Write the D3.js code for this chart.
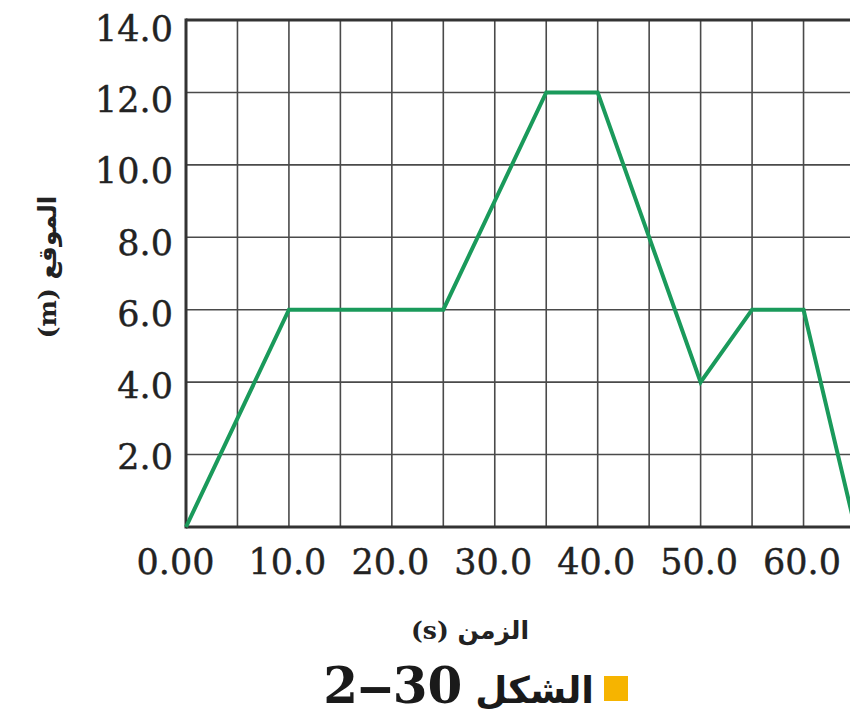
<!DOCTYPE html>
<html>
<head>
<meta charset="utf-8">
<script src="https://cdn.jsdelivr.net/npm/d3@7"></script>
<style>
  html, body { margin: 0; padding: 0; background: #fff; }
  svg { display: block; }
</style>
</head>
<body>
<svg id="chart" width="850" height="725"></svg>
<script>
// ---- data ----
const timeS = [0, 10, 25, 35, 40, 50, 55, 60, 65];
const positionM = [0, 6, 6, 12, 12, 4, 6, 6, 0];
const xTickValues = [0, 10, 20, 30, 40, 50, 60];
const xTickLabels = ["0.00", "10.0", "20.0", "30.0", "40.0", "50.0", "60.0"];
const yTickValues = [2, 4, 6, 8, 10, 12, 14];
const yTickLabels = ["2.0", "4.0", "6.0", "8.0", "10.0", "12.0", "14.0"];
const xGridValues = d3.range(0, 66, 5);
const yGridValues = d3.range(0, 15, 2);
const xTitle = "الزمن (s)";
const yTitle = "الموقع (m)";
const captionWord = "الشكل";
const captionNum = "30‒2";

const svg = d3.select("#chart");
svg.append("rect").attr("width", 850).attr("height", 725).attr("fill", "#fff");

const x = d3.scaleLinear().domain([0, 65]).range([186, 855]);
const y = d3.scaleLinear().domain([0, 14]).range([527, 20]);

const numFont = "'DejaVu Serif', serif";
const arFont = "'DejaVu Serif', 'DejaVu Sans', sans-serif";

// grid
const grid = svg.append("g");
grid.selectAll("line.v").data(xGridValues).join("line")
  .attr("x1", d => x(d)).attr("x2", d => x(d))
  .attr("y1", y(0)).attr("y2", y(14))
  .attr("stroke", "#4a4a4a").attr("stroke-width", 1.6);
grid.selectAll("line.h").data(yGridValues).join("line")
  .attr("x1", x(0)).attr("x2", x(65))
  .attr("y1", d => y(d)).attr("y2", d => y(d))
  .attr("stroke", "#4a4a4a").attr("stroke-width", 1.6);

// frame lines (left, bottom, top)
svg.append("line").attr("x1", x(0)).attr("x2", x(0)).attr("y1", y(0) + 1.5).attr("y2", y(14) - 1.5)
  .attr("stroke", "#333").attr("stroke-width", 3);
svg.append("line").attr("x1", x(0)).attr("x2", x(65)).attr("y1", y(0)).attr("y2", y(0))
  .attr("stroke", "#333").attr("stroke-width", 3);
svg.append("line").attr("x1", x(0)).attr("x2", x(65)).attr("y1", y(14)).attr("y2", y(14))
  .attr("stroke", "#333").attr("stroke-width", 3);

// x axis
const xAxis = d3.axisBottom(x).tickValues(xTickValues).tickSize(0).tickPadding(0)
  .tickFormat((d, i) => xTickLabels[i]);
const gx = svg.append("g").attr("transform", `translate(0,${y(0)})`).call(xAxis);
gx.select(".domain").remove();
gx.selectAll("text")
  .attr("font-family", numFont).attr("font-size", 35).attr("fill", "#222")
  .attr("stroke", "#222").attr("stroke-width", 0.4)
  .attr("dy", null).attr("y", 47)
  .attr("dx", (d, i) => i === 0 ? -11 : -2);

// y axis
const yAxis = d3.axisLeft(y).tickValues(yTickValues).tickSize(0).tickPadding(13)
  .tickFormat(d => yTickLabels[yTickValues.indexOf(d)]);
const gy = svg.append("g").attr("transform", `translate(${x(0)},0)`).call(yAxis);
gy.select(".domain").remove();
gy.selectAll("text")
  .attr("font-family", numFont).attr("font-size", 35).attr("fill", "#222")
  .attr("stroke", "#222").attr("stroke-width", 0.4)
  .attr("dy", "0.4em")
  .attr("transform", d => `translate(0,${(d - 2) * 0.5})`);

// line
const line = d3.line().x(d => x(d[0])).y(d => y(d[1]));
svg.append("path")
  .datum(timeS.map((t, i) => [t, positionM[i]]))
  .attr("d", line)
  .attr("fill", "none").attr("stroke", "#1a9a5b").attr("stroke-width", 4)
  .attr("stroke-linejoin", "miter");

// axis titles
svg.append("text")
  .attr("x", 470).attr("y", 639)
  .attr("text-anchor", "middle").attr("direction", "rtl")
  .attr("font-family", arFont).attr("font-weight", "bold").attr("font-size", 25)
  .attr("fill", "#222").text(xTitle);

svg.append("text")
  .attr("transform", "translate(56,267) rotate(-90)")
  .attr("text-anchor", "middle").attr("direction", "rtl")
  .attr("font-family", arFont).attr("font-weight", "bold").attr("font-size", 25)
  .attr("fill", "#222").text(yTitle);

// caption
svg.append("rect").attr("x", 604).attr("y", 676).attr("width", 24).attr("height", 25)
  .attr("fill", "#f6b400");
const cap = svg.append("text")
  .attr("x", 594).attr("y", 703)
  .attr("text-anchor", "start").attr("direction", "rtl")
  .attr("font-family", arFont).attr("font-weight", "bold")
  .attr("fill", "#1a1a1a");
cap.append("tspan").attr("font-size", 37).text(captionWord + " ");
cap.append("tspan").attr("font-size", 50).attr("letter-spacing", 3).text(captionNum);
</script>
</body>
</html>
